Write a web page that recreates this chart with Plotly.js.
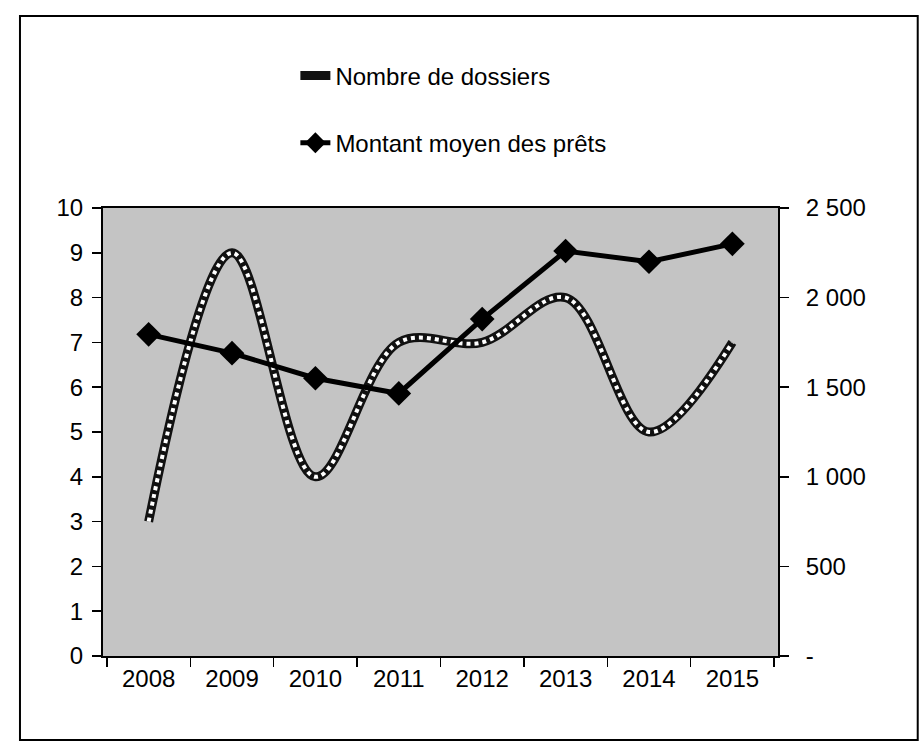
<!DOCTYPE html>
<html>
<head>
<meta charset="utf-8">
<script src="https://cdn.plot.ly/plotly-3.0.1.min.js"></script>
<style>html,body{margin:0;padding:0;background:#fff;}#chart{width:921px;height:743px;}</style>
</head>
<body>
<div id="chart"></div>
<script>
const years = ['2008','2009','2010','2011','2012','2013','2014','2015'];
const nombreDossiers = [3, 9, 4, 7, 7, 8, 5, 7];
const montantMoyen = [1795, 1690, 1550, 1465, 1880, 2260, 2200, 2300];
const leftTicks = [0,1,2,3,4,5,6,7,8,9,10];
const rightTickVals = [0, 500, 1000, 1500, 2000, 2500];
const rightTickText = ['-', '500', '1 000', '1 500', '2 000', '2 500'];

const FONT = 'Liberation Sans, Arial, sans-serif';

const traces = [
  {
    x: years, y: nombreDossiers, type: 'scatter', mode: 'lines',
    name: 'Nombre de dossiers', legendgroup: 'a',
    line: {color: '#111', width: 9, shape: 'spline', smoothing: 1},
    hoverinfo: 'skip'
  },
  {
    x: years, y: nombreDossiers, type: 'scatter', mode: 'lines',
    name: 'Nombre de dossiers', legendgroup: 'a', showlegend: false,
    line: {color: '#ffffff', width: 4, shape: 'spline', smoothing: 1, dash: 'dot'},
    hoverinfo: 'skip'
  },
  {
    x: years, y: montantMoyen, type: 'scatter', mode: 'lines+markers',
    name: 'Montant moyen des prêts', legendgroup: 'b', yaxis: 'y2',
    line: {color: '#000', width: 5},
    marker: {symbol: 'diamond', size: 19, color: '#000'}
  }
];

const layout = {
  width: 921, height: 743,
  margin: {l: 103, r: 143, t: 208, b: 87},
  paper_bgcolor: '#ffffff',
  plot_bgcolor: '#c4c4c4',
  font: {family: FONT, size: 24, color: '#000'},
  showlegend: true,
  legend: {
    x: 0.285, y: 1.345, xanchor: 'left', yanchor: 'top',
    font: {family: FONT, size: 24, color: '#000'},
    tracegroupgap: 33, bgcolor: 'rgba(0,0,0,0)'
  },
  xaxis: {
    type: 'category', tickson: 'boundaries',
    showline: true, linecolor: '#000', linewidth: 2, mirror: true,
    ticks: 'outside', ticklen: 9, tickwidth: 1.5, tickcolor: '#000',
    showgrid: false, zeroline: false,
    tickfont: {family: FONT, size: 24}
  },
  yaxis: {
    range: [0, 10], tickvals: leftTicks,
    showline: true, linecolor: '#000', linewidth: 2,
    ticks: 'outside', ticklen: 9, tickwidth: 1.5, tickcolor: '#000',
    showgrid: false, zeroline: false, ticklabelstandoff: 4,
    tickfont: {family: FONT, size: 24}
  },
  yaxis2: {
    range: [0, 2500], overlaying: 'y', side: 'right',
    tickvals: rightTickVals, ticktext: rightTickText,
    showline: true, linecolor: '#000', linewidth: 2,
    ticks: 'outside', ticklen: 9, tickwidth: 1.5, tickcolor: '#000',
    showgrid: false, zeroline: false, ticklabelstandoff: 12,
    tickfont: {family: FONT, size: 24}
  },
  shapes: [{
    type: 'rect', xref: 'paper', yref: 'paper',
    x0: -0.123, x1: 1.207, y0: -0.1875, y1: 1.4286,
    line: {color: '#000', width: 2}, fillcolor: 'rgba(0,0,0,0)'
  }]
};

Plotly.newPlot('chart', traces, layout, {displayModeBar: false, staticPlot: true});
</script>
</body>
</html>
